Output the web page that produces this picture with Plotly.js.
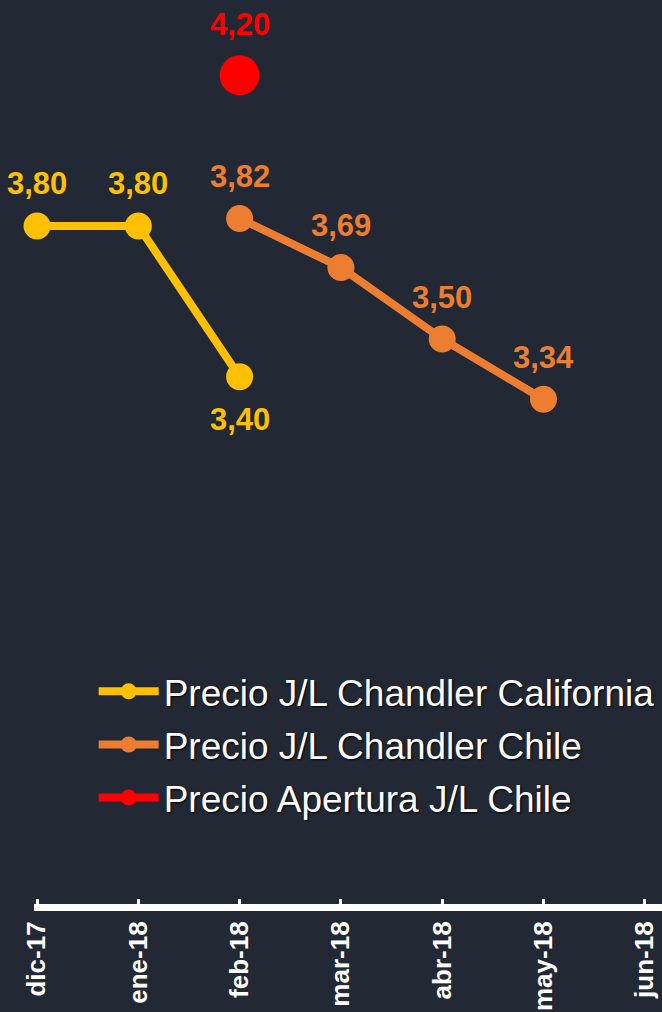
<!DOCTYPE html>
<html>
<head>
<meta charset="utf-8">
<script src="https://cdn.plot.ly/plotly-3.0.1.min.js"></script>
<style>
html,body{margin:0;padding:0;background:#232934;}
#chart{width:662px;height:1012px;}
</style>
</head>
<body>
<div id="chart"></div>
<script>
// Data
const months = ["dic-17", "ene-18", "feb-18", "mar-18", "abr-18", "may-18", "jun-18"];
const californiaMonths = ["dic-17", "ene-18", "feb-18"];
const californiaValues = [3.80, 3.80, 3.40];
const chileMonths = ["feb-18", "mar-18", "abr-18", "may-18"];
const chileValues = [3.82, 3.69, 3.50, 3.34];
const aperturaMonths = ["feb-18"];
const aperturaValues = [4.20];
const seriesNames = ["Precio J/L Chandler California", "Precio J/L Chandler Chile", "Precio Apertura J/L Chile"];

const colors = ["#FFC000", "#ED7D31", "#FF0000"];
const fmt = v => v.toFixed(2).replace(".", ",");

const traces = [
  {x: californiaMonths, y: californiaValues, name: seriesNames[0], mode: "lines+markers", cliponaxis: false,
   line: {color: colors[0], width: 8}, marker: {color: colors[0], size: 27}, legendgroup: "a"},
  {x: chileMonths, y: chileValues, name: seriesNames[1], mode: "lines+markers", cliponaxis: false,
   line: {color: colors[1], width: 8}, marker: {color: colors[1], size: 27}, legendgroup: "b"},
  {x: aperturaMonths, y: aperturaValues, name: seriesNames[2], mode: "lines+markers", cliponaxis: false,
   line: {color: colors[2], width: 8}, marker: {color: colors[2], size: 40}, legendgroup: "c"}
];

const annotations = [];
const labelFont = c => ({family: "Liberation Sans, Arial, sans-serif", size: 31, color: c, weight: "bold"});
californiaMonths.forEach((m, i) => {
  const below = i === californiaMonths.length - 1;
  annotations.push({x: m, y: californiaValues[i], xref: "x", yref: "y", text: "<b>" + fmt(californiaValues[i]) + "</b>",
    showarrow: false, yanchor: "middle", yshift: below ? -43 : 43, font: labelFont(colors[0])});
});
chileMonths.forEach((m, i) => {
  annotations.push({x: m, y: chileValues[i], xref: "x", yref: "y", text: "<b>" + fmt(chileValues[i]) + "</b>",
    showarrow: false, yanchor: "middle", yshift: 42, font: labelFont(colors[1])});
});
aperturaMonths.forEach((m, i) => {
  annotations.push({x: m, y: aperturaValues[i], xref: "x", yref: "y", text: "<b>" + fmt(aperturaValues[i]) + "</b>",
    showarrow: false, yanchor: "middle", yshift: 51, font: labelFont(colors[2])});
});

const layout = {
  width: 662, height: 1012,
  paper_bgcolor: "#232934", plot_bgcolor: "#232934",
  margin: {l: 34, r: 0, t: 0, b: 108, autoexpand: false},
  showlegend: true,
  legend: {
    x: 0.095, y: 0.269, xanchor: "left", yanchor: "top",
    bgcolor: "rgba(0,0,0,0)",
    font: {family: "Liberation Sans, Arial, sans-serif", size: 37, color: "#FFFFFF", shadow: "1px 1px 2px #000"},
    traceorder: "grouped", tracegroupgap: 2, itemwidth: 60
  },
  xaxis: {
    type: "category", categoryorder: "array", categoryarray: months,
    tickmode: "array", tickvals: months, ticktext: months,
    range: [-0.03, 6.17],
    showgrid: false, zeroline: false,
    showline: true, linecolor: "#FFFFFF", linewidth: 7,
    ticks: "inside", ticklen: 5, tickwidth: 3, tickcolor: "#FFFFFF",
    tickangle: -90,
    tickfont: {family: "Liberation Sans, Arial, sans-serif", size: 26, color: "#FFFFFF", weight: "bold"}
  },
  yaxis: {
    range: [2.0, 4.4], visible: false, showgrid: false, zeroline: false, fixedrange: true
  },
  annotations: annotations
};

Plotly.newPlot("chart", traces, layout, {displayModeBar: false, staticPlot: true});
</script>
</body>
</html>
